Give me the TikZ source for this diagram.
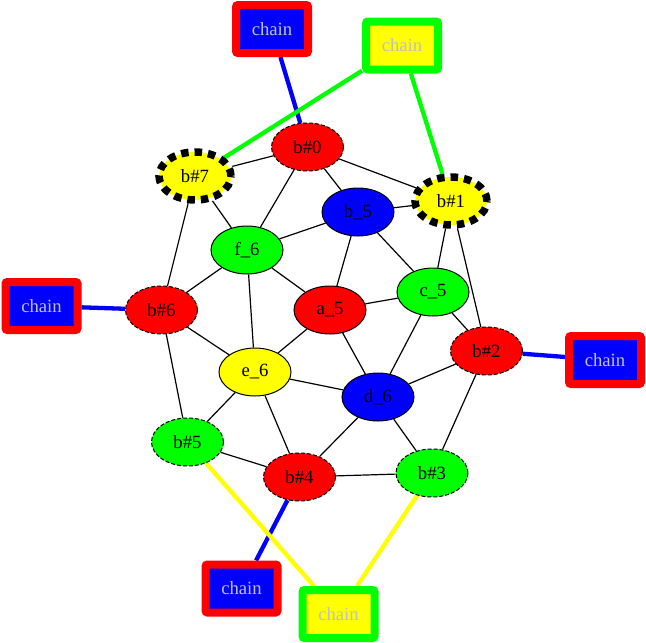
\documentclass[tikz,border=0pt]{standalone}
\usepackage{fontspec}
\setmainfont{Liberation Serif}
\usetikzlibrary{shapes.geometric}
\definecolor{cred}{HTML}{FF0000}
\definecolor{cblue}{HTML}{0000FF}
\definecolor{cgreen}{HTML}{00FF00}
\definecolor{cyellow}{HTML}{FFFF00}
\definecolor{cgray}{HTML}{C0C0C0}
\pgfdeclarelayer{bg}
\pgfsetlayers{bg,main}
\tikzset{
  x=1pt, y=-1pt,
  nd/.style={ellipse, draw=black, line width=1pt, minimum width=72pt, minimum height=48pt, inner sep=0pt, font=\fontsize{18.7}{20}\selectfont},
  thindash/.style={nd, dash pattern=on 4pt off 2pt},
  thickdash/.style={nd, line width=7.5pt, dash pattern=on 7.5pt off 6pt},
  chainbox/.style={rectangle, line width=8pt, rounded corners=2pt, minimum width=72pt, minimum height=48pt, inner sep=0pt, text=cgray, font=\fontsize{18.7}{20}\selectfont},
  rbchain/.style={chainbox, draw=cred, fill=cblue},
  gychain/.style={chainbox, draw=cgreen, fill=cyellow},
  edge/.style={draw=black, line width=1.2pt},
  cedge/.style={line width=4.3pt},
}
\begin{document}
\begin{tikzpicture}
\useasboundingbox (0,0) rectangle (646,643);
% chain boxes
\node[rbchain] (c0) at (272,29) {chain};
\node[gychain] (c1) at (402,45.5) {chain};
\node[rbchain] (c2) at (41.5,306) {chain};
\node[rbchain] (c3) at (605,360) {chain};
\node[rbchain] (c4) at (241.5,588.5) {chain};
\node[gychain] (c5) at (338.5,614) {chain};
% graph nodes
\node[thindash, fill=cred] (b0) at (307.5,147) {b\#0};
\node[thickdash, fill=cyellow] (b7) at (195,176) {b\#7};
\node[thickdash, fill=cyellow] (b1) at (451,201) {b\#1};
\node[nd, fill=cblue] (b5) at (358,212) {b\_5};
\node[nd, fill=cgreen] (f6) at (247,250) {f\_6};
\node[thindash, fill=cred] (b6) at (161.5,310) {b\#6};
\node[nd, fill=cred] (a5) at (330,310) {a\_5};
\node[nd, fill=cgreen] (c5n) at (433,292) {c\_5};
\node[thindash, fill=cred] (b2) at (486.5,351) {b\#2};
\node[nd, fill=cyellow] (e6) at (255,372) {e\_6};
\node[nd, fill=cblue] (d6) at (378,397) {d\_6};
\node[thindash, fill=cgreen] (b5h) at (187.5,442) {b\#5};
\node[thindash, fill=cred] (b4) at (299.5,477) {b\#4};
\node[thindash, fill=cgreen] (b3) at (432,473) {b\#3};
\begin{pgfonlayer}{bg}
\foreach \a/\b in {b0/b7,b0/f6,b0/b5,b0/b1,b7/b6,b7/f6,b1/b5,b1/c5n,b1/b2,b5/f6,b5/a5,b5/c5n,f6/b6,f6/a5,f6/e6,b6/e6,b6/b5h,a5/c5n,a5/e6,a5/d6,c5n/b2,c5n/d6,b2/d6,b2/b3,e6/d6,e6/b5h,e6/b4,d6/b4,d6/b3,b5h/b4,b4/b3}
  \draw[edge] (\a) -- (\b);
\draw[cedge, cblue] (c0) -- (b0);
\draw[cedge, cgreen] (c1) -- (b7);
\draw[cedge, cgreen] (c1) -- (b1);
\draw[cedge, cblue] (c2) -- (b6);
\draw[cedge, cblue] (c3) -- (b2);
\draw[cedge, cblue] (c4) -- (b4);
\draw[cedge, cyellow] (c5) -- (b5h);
\draw[cedge, cyellow] (c5) -- (b3);
\end{pgfonlayer}
\end{tikzpicture}
\end{document}
